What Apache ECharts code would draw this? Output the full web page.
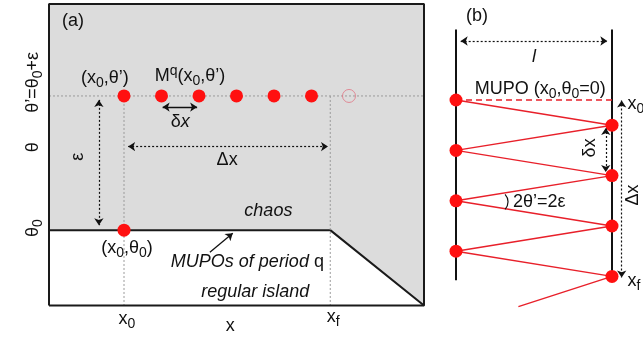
<!DOCTYPE html>
<html>
<head>
<meta charset="utf-8">
<script src="https://cdn.jsdelivr.net/npm/echarts@6/dist/echarts.min.js"></script>
<style>
  html, body { margin: 0; padding: 0; background: #fff; }
  #chart { width: 643px; height: 337px; }
</style>
</head>
<body>
<div id="chart"></div>
<script>
// ---- Panel (a): phase space (x, theta) ----
const xRange = [0, 100];
const thetaRange = [0, 100];
const x0 = 20;
const xf = 75;
const theta0 = 25;
const thetaPrime = 69.5;
const orbitX = [20, 30, 40, 50, 60, 70];   // M^q iterates on the theta' line
const nextX = [80];                        // next (open) iterate beyond xf
const islandEdge = [[0, 25], [75, 25], [100, 0]];

// ---- Panel (b): billiard between two walls ----
const wallRange = [0, 1];
const posRange = [-3, 9];
const leftHits = [0, 2, 4, 6];
const rightHits = [1, 3, 5, 7];
const orbitPath = [[0, 0], [1, 1], [0, 2], [1, 3], [0, 4], [1, 5], [0, 6], [1, 7], [0.4, 8.2]];
const leftWall = [[0, -2.8], [0, 7.15]];
const rightWall = [[1, -2.8], [1, 7.05]];

const FONT = '"Liberation Sans", Arial, sans-serif';
const RED = '#ff1010';
const LRED = '#e8202a';

const chart = echarts.init(document.getElementById('chart'), null, { renderer: 'canvas' });

function seg(a, b) { return { coords: [a, b] }; }

const option = {
  animation: false,
  backgroundColor: '#ffffff',
  grid: [
    { left: 49, top: 4, width: 375, height: 301.5, show: true, backgroundColor: '#dcdcdc', borderWidth: 0 },
    { left: 456, top: 24.4, width: 156, height: 302.4, show: false }
  ],
  xAxis: [
    { gridIndex: 0, type: 'value', min: xRange[0], max: xRange[1], show: false },
    { gridIndex: 1, type: 'value', min: wallRange[0], max: wallRange[1], show: false }
  ],
  yAxis: [
    { gridIndex: 0, type: 'value', min: thetaRange[0], max: thetaRange[1], show: false },
    { gridIndex: 1, type: 'value', min: posRange[0], max: posRange[1], inverse: true, show: false }
  ],
  series: [
    // regular island (white) under the chaotic sea
    { type: 'line', xAxisIndex: 0, yAxisIndex: 0, data: islandEdge, symbol: 'none', clip: false,
      lineStyle: { color: '#1a1a1a', width: 2 }, areaStyle: { color: '#ffffff', opacity: 1 }, z: 2 },
    // guide lines
    { type: 'line', xAxisIndex: 0, yAxisIndex: 0, symbol: 'none', z: 3,
      data: [[xRange[0], thetaPrime], [xRange[1], thetaPrime]],
      lineStyle: { color: '#9a9a9a', width: 1, type: [2, 2] } },
    { type: 'line', xAxisIndex: 0, yAxisIndex: 0, symbol: 'none', z: 3,
      data: [[x0, thetaPrime], [x0, 0]],
      lineStyle: { color: '#9a9a9a', width: 1, type: [2, 2] } },
    { type: 'line', xAxisIndex: 0, yAxisIndex: 0, symbol: 'none', z: 3,
      data: [[xf, thetaPrime], [xf, 0]],
      lineStyle: { color: '#9a9a9a', width: 1, type: [2, 2] } },
    // frame
    { type: 'line', xAxisIndex: 0, yAxisIndex: 0, symbol: 'none', clip: false, z: 6,
      data: [[0, 0], [100, 0], [100, 100], [0, 100], [0, 0]],
      lineStyle: { color: '#1a1a1a', width: 2 } },
    // dotted double arrows
    { type: 'lines', coordinateSystem: 'cartesian2d', xAxisIndex: 0, yAxisIndex: 0, z: 5,
      symbol: ['arrow', 'arrow'], symbolSize: 7,
      lineStyle: { color: '#111', width: 1.2, type: [2, 2], opacity: 1 },
      data: [seg([13.3, 68.2], [13.3, 26.6]), seg([21.1, 52.7], [74.4, 52.7])] },
    // solid double arrow delta x
    { type: 'lines', coordinateSystem: 'cartesian2d', xAxisIndex: 0, yAxisIndex: 0, z: 5,
      symbol: ['arrow', 'arrow'], symbolSize: 7,
      lineStyle: { color: '#111', width: 1.3, opacity: 1 },
      data: [seg([30.3, 65.8], [39.5, 65.8])] },
    // pointer to the MUPO line
    { type: 'lines', coordinateSystem: 'cartesian2d', xAxisIndex: 0, yAxisIndex: 0, z: 5,
      symbol: ['none', 'arrow'], symbolSize: 7,
      lineStyle: { color: '#111', width: 1.3, opacity: 1 },
      data: [seg([42.9, 17.7], [49, 24])] },
    // iterates
    { type: 'scatter', xAxisIndex: 0, yAxisIndex: 0, symbolSize: 13, z: 7,
      itemStyle: { color: RED, opacity: 1 },
      data: orbitX.map(x => [x, thetaPrime]).concat([[x0, theta0]]) },
    { type: 'scatter', xAxisIndex: 0, yAxisIndex: 0, symbolSize: 13, z: 7,
      itemStyle: { color: 'rgba(0,0,0,0)', borderColor: '#e07585', borderWidth: 1 },
      data: nextX.map(x => [x, thetaPrime]) },

    // ---- panel (b) ----
    { type: 'line', xAxisIndex: 1, yAxisIndex: 1, symbol: 'none', clip: false, z: 3,
      data: leftWall, lineStyle: { color: '#111', width: 2 } },
    { type: 'line', xAxisIndex: 1, yAxisIndex: 1, symbol: 'none', clip: false, z: 3,
      data: rightWall, lineStyle: { color: '#111', width: 2 } },
    { type: 'line', xAxisIndex: 1, yAxisIndex: 1, symbol: 'none', clip: false, z: 4,
      data: [[0, 0], [1, 0]], lineStyle: { color: LRED, width: 1.3, type: [6, 4] } },
    { type: 'line', xAxisIndex: 1, yAxisIndex: 1, symbol: 'none', clip: false, z: 4,
      data: orbitPath, lineStyle: { color: LRED, width: 1.4 } },
    { type: 'lines', coordinateSystem: 'cartesian2d', xAxisIndex: 1, yAxisIndex: 1, z: 5, clip: false,
      symbol: ['arrow', 'arrow'], symbolSize: 7,
      lineStyle: { color: '#111', width: 1.2, type: [2, 2], opacity: 1 },
      data: [seg([0.03, -2.34], [0.97, -2.34]), seg([0.96, 1.11], [0.96, 2.86]), seg([1.062, 0.02], [1.062, 7.04])] },
    { type: 'scatter', xAxisIndex: 1, yAxisIndex: 1, symbolSize: 13, z: 7, clip: false,
      itemStyle: { color: RED, opacity: 1 },
      data: leftHits.map(s => [0, s]).concat(rightHits.map(s => [1, s])) }
  ]
};
chart.setOption(option);

// ---- text annotations, placed through the grids' own coordinate mapping ----
const rich = {
  n: { fontSize: 18, fontFamily: FONT, fill: '#111' },
  i: { fontSize: 18, fontFamily: FONT, fontStyle: 'italic', fill: '#111' },
  s: { fontSize: 14, fontFamily: FONT, fill: '#111', padding: [10, 0, 0, 0] },
  p: { fontSize: 14, fontFamily: FONT, fill: '#111', padding: [0, 0, 9, 0] }
};
const P = (g, x, y) => chart.convertToPixel({ gridIndex: g }, [x, y]);

function label(g, x, y, text, opts) {
  opts = opts || {};
  const p = P(g, x, y);
  return {
    type: 'text', x: p[0], y: p[1], rotation: opts.rot || 0, z: 20,
    style: { text: text, rich: rich, fill: '#111', font: '18px ' + FONT,
             align: opts.align || 'center', verticalAlign: 'middle' }
  };
}

const TP = 'θ\u2019';
const graphics = [
  // panel (a)
  label(0, 6.4, 94.4, '{n|(a)}'),
  label(0, 14.9, 75.5, '{n|(x}{s|0}{n|,' + TP + ')}'),
  label(0, 37.6, 76.1, '{n|M}{p|q}{n|(x}{s|0}{n|,' + TP + ')}'),
  label(0, 35, 60.9, '{n|δ}{i|x}'),
  label(0, 7.7, 49.3, '{n|ε}', { rot: Math.PI / 2 }),
  label(0, 47.5, 48.2, '{n|Δx}'),
  label(0, 58.5, 31.3, '{i|chaos}'),
  label(0, 20.8, 19.1, '{n|(x}{s|0}{n|,θ}{s|0}{n|)}'),
  label(0, 52.9, 14.4, '{i|MUPOs of period }{n|q}'),
  label(0, 55, 4.5, '{i|regular island}'),
  label(0, x0 + 0.8, -4.4, '{n|x}{s|0}'),
  label(0, 48.3, -6.8, '{n|x}'),
  label(0, xf + 0.8, -3.8, '{n|x}{s|f}'),
  label(0, -4.3, 74, '{n|' + TP + '=θ}{s|0}{n|+ε}', { rot: Math.PI / 2 }),
  label(0, -4.3, 52.5, '{n|θ}', { rot: Math.PI / 2 }),
  label(0, -4.3, 25.7, '{n|θ}{s|0}', { rot: Math.PI / 2 }),
  // panel (b)
  label(1, 0.135, -3.33, '{n|(b)}'),
  label(1, 0.5, -1.7, '{i|l}'),
  label(1, 0.54, -0.45, '{n|MUPO (x}{s|0}{n|,θ}{s|0}{n|=0)}'),
  label(1, 0.859, 1.9, '{n|δx}', { rot: Math.PI / 2 }),
  label(1, 1.135, 3.77, '{n|Δx}', { rot: Math.PI / 2 }),
  label(1, 1.1, 0.15, '{n|x}{s|0}', { align: 'left' }),
  label(1, 1.1, 7.2, '{n|x}{s|f}', { align: 'left' }),
  label(1, 0.365, 4.05, '{n|2' + TP + '=2ε}', { align: 'left' })
];
// small angle mark between the two rays leaving the wall
const arcC = P(1, 0.263, 4.04);
graphics.push({
  type: 'arc', z: 20,
  shape: { cx: arcC[0], cy: arcC[1], r: 11, startAngle: -0.75, endAngle: 0.75, clockwise: true },
  style: { stroke: '#111', fill: 'none', lineWidth: 1.2 }
});
chart.setOption({ graphic: graphics });
</script>
</body>
</html>
